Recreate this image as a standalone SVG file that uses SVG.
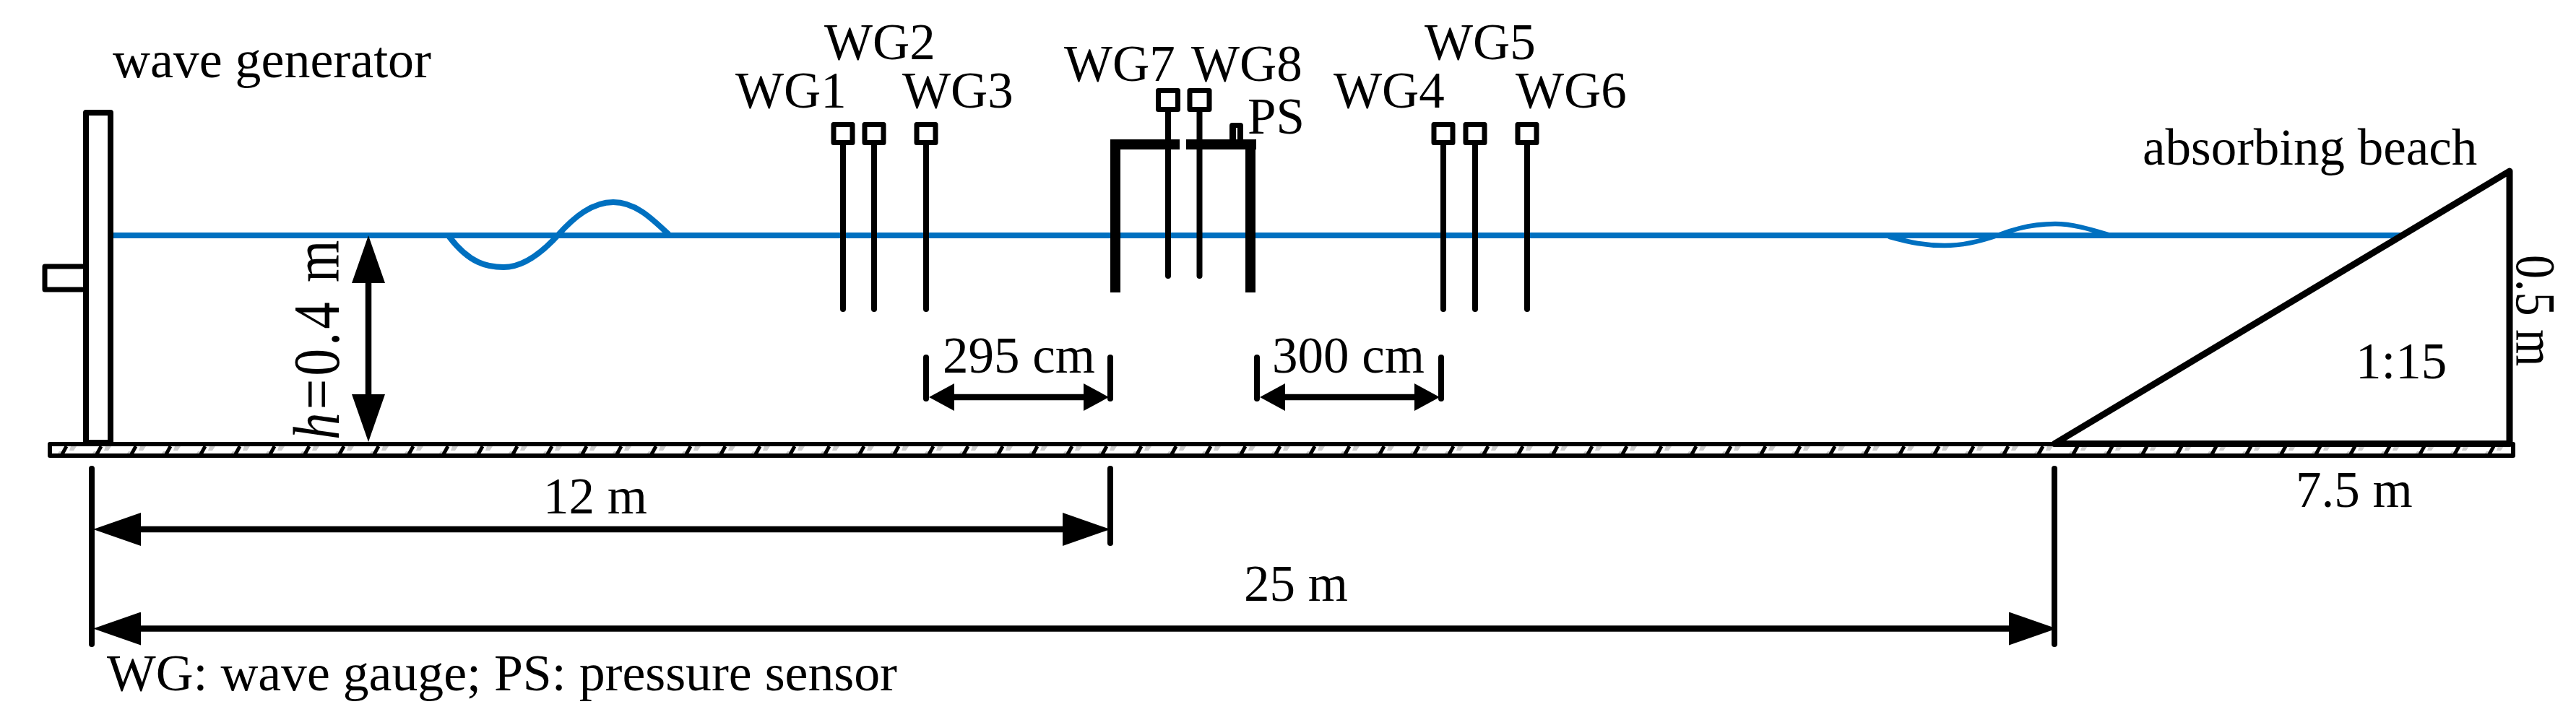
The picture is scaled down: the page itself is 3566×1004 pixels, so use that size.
<svg xmlns="http://www.w3.org/2000/svg" width="3566" height="1004" viewBox="0 0 3566 1004">
<style>
text{font-family:"Liberation Serif","Times New Roman",serif;font-size:71px;fill:#000}
.k{fill:none;stroke:#000;stroke-width:8;stroke-linejoin:round;stroke-linecap:round}
.box{fill:#fff;stroke:#000;stroke-width:7;stroke-linejoin:round}
.wt{fill:none;stroke:#0070C0;stroke-linecap:round;stroke-linejoin:round}
.beam{fill:#000;stroke:none}
.dim{fill:none;stroke:#000;stroke-width:8.5}
</style>
<defs>
<marker id="hb" markerUnits="userSpaceOnUse" markerWidth="66" markerHeight="46" refX="4" refY="23" orient="auto-start-reverse"><path d="M0,0L66,23L0,46Z" fill="#000"/></marker>
<marker id="hs" markerUnits="userSpaceOnUse" markerWidth="35" markerHeight="38" refX="4" refY="19" orient="auto-start-reverse"><path d="M0,0L35,19L0,38Z" fill="#000"/></marker>
<pattern id="hatch" patternUnits="userSpaceOnUse" x="65" y="618" width="48" height="11">
<path d="M14,11L17,7L22,7L20,11ZM31,6L33,0L41,0L37,6Z" fill="#ccc"/>
<path d="M21,11L27,0" stroke="#000" stroke-width="5" fill="none"/>
</pattern>
</defs>
<g id="water">
<path class="wt" stroke-width="8" d="M153,326H3326"/>
<path class="wt" stroke-width="8" d="M622,328C650,365 675,370 697,370C725,370 750,350 772,326C795,300 820,280 849,280C878,280 900,300 925,324"/>
<path class="wt" stroke-width="6.500" d="M2616,328C2645,336 2665,340 2692,340C2720,340 2745,333 2765,326C2790,316 2820,310 2845,310C2870,310 2895,318 2922,326"/>
</g>
<g id="ground">
<rect x="69" y="615" width="3410" height="16" fill="url(#hatch)" stroke="#000" stroke-width="6" stroke-linejoin="round"/>
</g>
<g id="wave-generator">
<rect x="119" y="156" width="34" height="457" fill="#fff" stroke="#000" stroke-width="8" stroke-linejoin="round"/>
<path d="M115,369H62V401H115" fill="#fff" stroke="#000" stroke-width="7" stroke-linejoin="round"/>
<text x="156" y="107" textLength="441" lengthAdjust="spacingAndGlyphs">wave generator</text>
</g>
<g id="beach">
<path d="M2844,614.500L3474,237V614.500Z" fill="none" stroke="#000" stroke-width="9" stroke-linejoin="round"/>
<text x="2966" y="228">absorbing beach</text>
<text x="3261" y="524">1:15</text>
<text x="3178" y="702">7.5 m</text>
<text transform="translate(3484,353) rotate(90) scale(1,1.18)" style="font-size:66px;letter-spacing:1px">0.5 m</text>
</g>
<g id="WG1"><path class="k" d="M1167,197V428"/><rect class="box" x="1154" y="172.500" width="26" height="25"/><text x="1018" y="149">WG1</text></g>
<g id="WG2"><path class="k" d="M1210,197V428"/><rect class="box" x="1197" y="172.500" width="26" height="25"/><text x="1141" y="82">WG2</text></g>
<g id="WG3"><path class="k" d="M1282,197V428"/><rect class="box" x="1269" y="172.500" width="26" height="25"/><text x="1249" y="149">WG3</text></g>
<g id="WG4"><path class="k" d="M1998,197V428"/><rect class="box" x="1985" y="172.500" width="26" height="25"/><text x="1846" y="149">WG4</text></g>
<g id="WG5"><path class="k" d="M2042,197V428"/><rect class="box" x="2029" y="172.500" width="26" height="25"/><text x="1972" y="82">WG5</text></g>
<g id="WG6"><path class="k" d="M2114,197V428"/><rect class="box" x="2101" y="172.500" width="26" height="25"/><text x="2098" y="149">WG6</text></g>
<g id="structure">
<path class="beam" d="M1537,193H1633V207H1551V405H1537ZM1642,193H1739V207H1738V405H1724V207H1642Z"/>
</g>
<g id="WG7"><path class="k" d="M1617,151V382"/><rect class="box" x="1603.500" y="125.500" width="27" height="26"/><text x="1473" y="112">WG7</text></g>
<g id="WG8"><path class="k" d="M1660.500,151V382"/><rect class="box" x="1647" y="125.500" width="27" height="26"/><text x="1649" y="112">WG8</text></g>
<g id="PS">
<path d="M1702,193V174Q1702,170 1706,170H1717Q1721,170 1721,174V193H1713V177H1711V193Z" fill="#000"/>
<text x="1727" y="185">PS</text>
</g>
<g id="connectors">
<path class="dim" d="M510,388V550" style="marker-start:url(#hb);marker-end:url(#hb)"/>
<path class="k" d="M127,649V892"/>
<path class="k" d="M1537,649V752"/>
<path class="k" d="M2844,649V892"/>
<path class="dim" d="M191,733H1475" style="marker-start:url(#hb);marker-end:url(#hb)"/>
<path class="dim" d="M191,870.500H2785" style="marker-start:url(#hb);marker-end:url(#hb)"/>
<path class="k" d="M1282,495V552"/>
<path class="k" d="M1537,495V552"/>
<path class="k" d="M1740,495V552"/>
<path class="k" d="M1995,495V552"/>
<path class="dim" d="M1317,550H1504" style="marker-start:url(#hs);marker-end:url(#hs)"/>
<path class="dim" d="M1775,550H1962" style="marker-start:url(#hs);marker-end:url(#hs)"/>
</g>
<g id="labels">
<text transform="translate(469,609) rotate(-90) scale(1,1.2)" style="font-size:75px;letter-spacing:4.300px"><tspan font-style="italic">h</tspan>=0.4 m</text>
<text x="1305" y="516">295 cm</text>
<text x="1761" y="516">300 cm</text>
<text x="752" y="711">12 m</text>
<text x="1722" y="832">25 m</text>
<text x="148" y="956" textLength="1094" lengthAdjust="spacingAndGlyphs">WG: wave gauge; PS: pressure sensor</text>
</g>
</svg>
